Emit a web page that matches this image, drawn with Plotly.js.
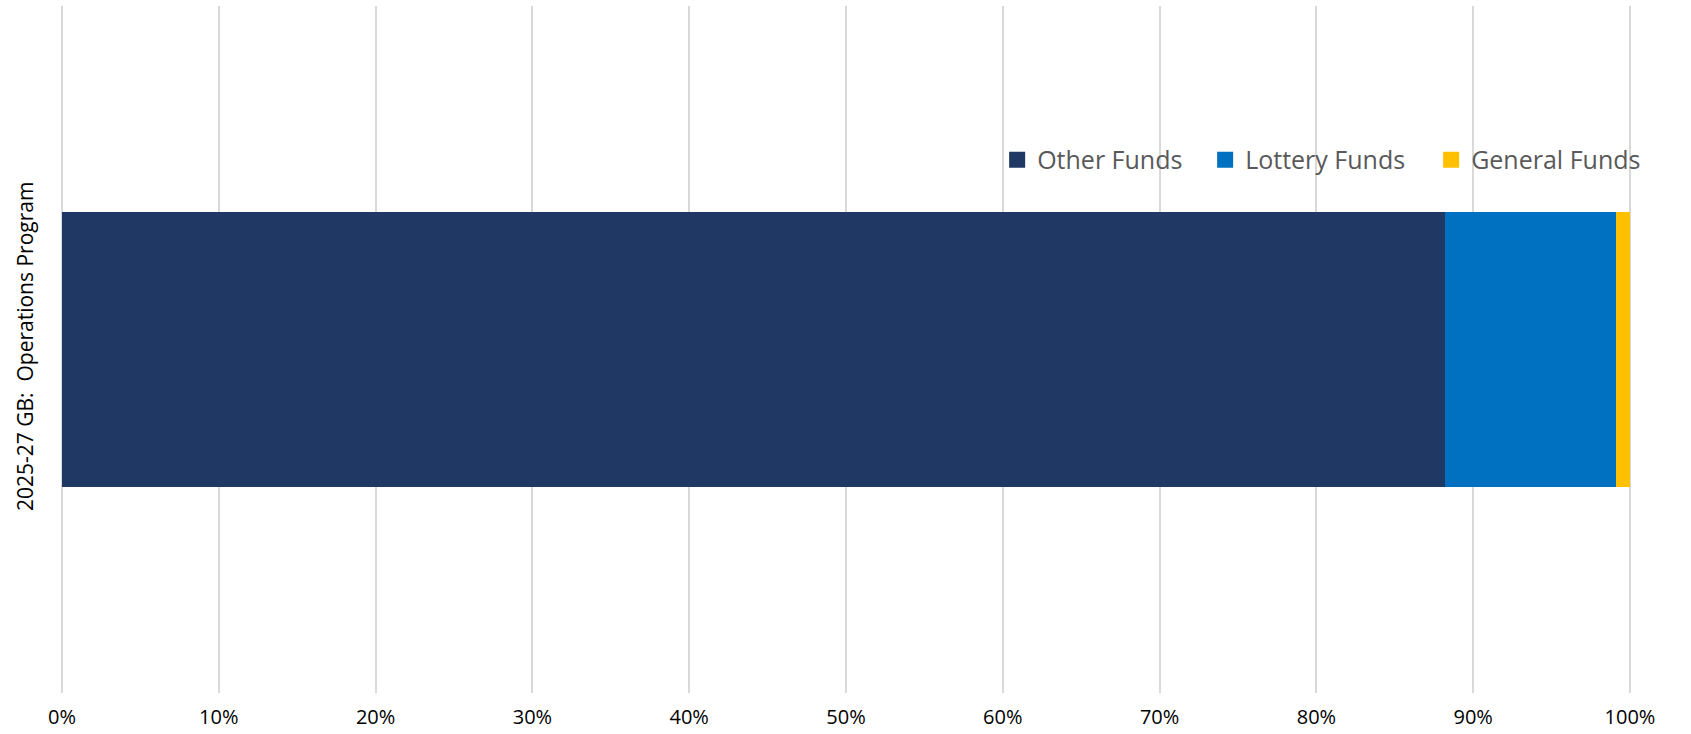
<!DOCTYPE html>
<html>
<head>
<meta charset="utf-8">
<script src="https://cdn.plot.ly/plotly-3.0.1.min.js"></script>
<style>html,body{margin:0;padding:0;background:#fff;}#chart{width:1691px;height:734px;}</style>
</head>
<body>
<div id="chart"></div>
<script>
const categories = ["2025-27 GB:  Operations Program"];
const seriesNames = ["Other Funds", "Lottery Funds", "General Funds"];
const otherFunds = [0.882];
const lotteryFunds = [0.109];
const generalFunds = [0.009];
const xTickValues = [0, 0.1, 0.2, 0.3, 0.4, 0.5, 0.6, 0.7, 0.8, 0.9, 1.0];

const colors = ["#203864", "#0070C0", "#FFC000"];
const legendWidths = [163, 181, 0];
const seriesValues = [otherFunds, lotteryFunds, generalFunds];

const barTraces = seriesNames.map((name, i) => ({
  type: "bar",
  orientation: "h",
  name: name,
  legendgroup: name,
  showlegend: false,
  y: categories,
  x: seriesValues[i],
  marker: { color: colors[i], line: { width: 0 } },
  hoverinfo: "x+name"
}));

// legend-only entries (no drawn marks) so the legend swatches can be larger
const legendTraces = seriesNames.map((name, i) => ({
  type: "scatter",
  mode: "markers",
  name: name,
  legendgroup: name,
  showlegend: true,
  legendwidth: legendWidths[i] || undefined,
  x: [null],
  y: [null],
  marker: { symbol: "square", size: 17, color: colors[i], line: { width: 0 } },
  hoverinfo: "skip"
}));

const layout = {
  width: 1691,
  height: 734,
  margin: { l: 60, r: 59, t: 6, b: 41, pad: 0 },
  paper_bgcolor: "#ffffff",
  plot_bgcolor: "#ffffff",
  barmode: "stack",
  bargap: 0.6,
  font: { family: "Open Sans, sans-serif", color: "#000000" },
  xaxis: {
    range: [-0.00128, 1.00128],
    tickvals: xTickValues,
    tickformat: ".0%",
    showgrid: true,
    gridcolor: "#d9d9d9",
    gridwidth: 2,
    zeroline: false,
    showline: false,
    ticks: "",
    tickfont: { size: 20, color: "#000000" },
    ticklabelstandoff: 10,
    fixedrange: true
  },
  yaxis: {
    type: "category",
    showgrid: false,
    zeroline: false,
    showline: false,
    ticks: "",
    tickangle: -90,
    tickfont: { size: 21, color: "#000000" },
    ticklabelstandoff: 22,
    fixedrange: true
  },
  legend: {
    orientation: "h",
    x: 1.009,
    xanchor: "right",
    y: 0.776,
    yanchor: "middle",
    itemsizing: "trace",
    font: { size: 25, color: "#595959" },
    bgcolor: "rgba(0,0,0,0)",
    traceorder: "normal"
  },
  showlegend: true
};

Plotly.newPlot("chart", barTraces.concat(legendTraces), layout, { displayModeBar: false });
</script>
</body>
</html>
